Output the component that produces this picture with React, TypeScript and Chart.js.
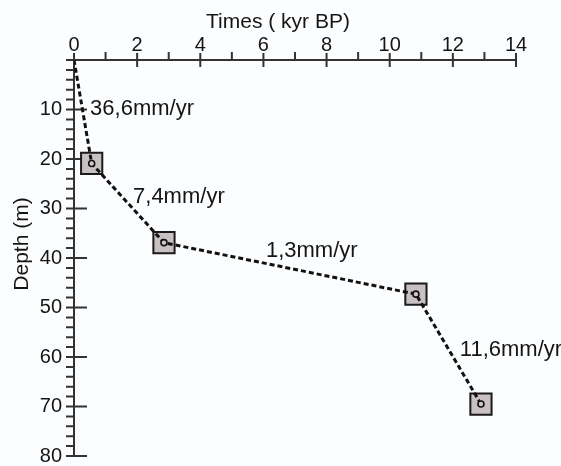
import React, { useEffect, useRef } from "react";
import { Chart, registerables } from "chart.js";

Chart.register(...registerables);

// ---- data ----
const times = [0, 0.56, 2.85, 10.83, 12.89]; // kyr BP
const depths = [0, 20.9, 36.9, 47.3, 69.5]; // m
const xMajorTicks = [0, 2, 4, 6, 8, 10, 12, 14];
const xMinorTicks = [1, 3, 5, 7, 9, 11, 13];
const yMajorTicks = [0, 10, 20, 30, 40, 50, 60, 70, 80];
const yMinorTicks = [2, 4, 6, 8, 12, 14, 16, 18, 22, 24, 26, 28, 32, 34, 36, 38, 42, 44, 46, 48, 52, 54, 56, 58, 62, 64, 66, 68, 72, 74, 76, 78];
const rateLabels = ["36,6mm/yr", "7,4mm/yr", "1,3mm/yr", "11,6mm/yr"];
const rateLabelX = [0.51, 1.87, 6.08, 12.22];
const rateLabelY = [9.8, 27.7, 38.5, 58.5];
const xTitle = "Times ( kyr BP)";
const yTitle = "Depth (m)";

const FONT = "'Liberation Sans', Arial, sans-serif";
const INK = "#151515";

const axesPlugin = {
  id: "customAxes",
  beforeDraw(chart: any) {
    const ctx = chart.ctx;
    ctx.save();
    ctx.fillStyle = "#fcfdfe";
    ctx.fillRect(0, 0, chart.width, chart.height);
    ctx.restore();
  },
  beforeDatasetsDraw(chart: any) {
    const ctx = chart.ctx;
    const xs = chart.scales.x;
    const ys = chart.scales.y;
    const x0 = xs.getPixelForValue(0);
    const y0 = ys.getPixelForValue(0);
    ctx.save();
    ctx.strokeStyle = "#333333";
    ctx.lineWidth = 2;
    ctx.beginPath();
    // x axis line
    ctx.moveTo(x0, y0);
    ctx.lineTo(xs.getPixelForValue(14), y0);
    // y axis line
    ctx.moveTo(x0, y0);
    ctx.lineTo(x0, ys.getPixelForValue(80));
    for (const v of xMajorTicks) {
      const p = xs.getPixelForValue(v);
      ctx.moveTo(p, y0 - 7);
      ctx.lineTo(p, y0 + 7);
    }
    for (const v of xMinorTicks) {
      const p = xs.getPixelForValue(v);
      ctx.moveTo(p, y0 - 8);
      ctx.lineTo(p, y0);
    }
    for (const v of yMajorTicks) {
      const p = ys.getPixelForValue(v);
      ctx.moveTo(x0 - 8, p);
      ctx.lineTo(x0 + 13, p);
    }
    for (const v of yMinorTicks) {
      const p = ys.getPixelForValue(v);
      ctx.moveTo(x0 - 8, p);
      ctx.lineTo(x0, p);
    }
    ctx.stroke();
    ctx.restore();
  },
  afterDraw(chart: any) {
    const ctx = chart.ctx;
    const xs = chart.scales.x;
    const ys = chart.scales.y;
    ctx.save();
    ctx.fillStyle = INK;
    // rate labels
    ctx.font = `22px ${FONT}`;
    ctx.textAlign = "left";
    ctx.textBaseline = "middle";
    rateLabels.forEach((t, i) => {
      ctx.fillText(t, xs.getPixelForValue(rateLabelX[i]), ys.getPixelForValue(rateLabelY[i]));
    });
    // x title
    ctx.font = `21px ${FONT}`;
    ctx.textAlign = "left";
    ctx.textBaseline = "alphabetic";
    ctx.fillText(xTitle, 206, 28);
    // y title
    ctx.font = `21px ${FONT}`;
    ctx.translate(22, 244);
    ctx.rotate(-Math.PI / 2);
    ctx.textAlign = "center";
    ctx.textBaseline = "middle";
    ctx.fillText(yTitle, 0, 0);
    ctx.restore();
  },
};

export default function App() {
  const ref = useRef<HTMLCanvasElement | null>(null);
  useEffect(() => {
    if (!ref.current) return;
    const pts = times.map((t, i) => ({ x: t, y: depths[i] }));
    const markerPts = pts.slice(1);
    const chart = new Chart(ref.current, {
      type: "scatter",
      data: {
        datasets: [
          {
            label: "dots",
            data: markerPts,
            pointRadius: 3,
            pointBackgroundColor: "#d0c8c8",
            pointBorderColor: "#111111",
            pointBorderWidth: 1.6,
            showLine: false,
            order: 0,
          },
          {
            label: "line",
            data: pts,
            showLine: true,
            borderColor: "#111111",
            borderWidth: 3,
            borderDash: [5, 3],
            pointRadius: 0,
            order: 1,
          },
          {
            label: "samples",
            data: markerPts,
            pointStyle: "rect",
            pointRadius: 15,
            pointBackgroundColor: "#c9c1c1",
            pointBorderColor: "#1a1a1a",
            pointBorderWidth: 2,
            showLine: false,
            order: 2,
          },
        ],
      },
      options: {
        responsive: false,
        animation: false,
        layout: { padding: { left: 0, top: 0, right: 45, bottom: 21 } },
        plugins: {
          legend: { display: false },
          tooltip: { enabled: false },
        },
        scales: {
          x: {
            type: "linear",
            position: "top",
            min: 0,
            max: 14,
            grid: { display: false, drawTicks: false },
            border: { display: false },
            ticks: {
              stepSize: 2,
              padding: 3,
              color: INK,
              font: { family: FONT, size: 20 },
              maxRotation: 0,
            },
            afterFit: (s: any) => {
              s.height = 60;
            },
          },
          y: {
            type: "linear",
            position: "left",
            min: 0,
            max: 80,
            reverse: true,
            grid: { display: false, drawTicks: false },
            border: { display: false },
            ticks: {
              stepSize: 10,
              padding: 12,
              color: INK,
              font: { family: FONT, size: 20 },
              callback: (v: any) => (v === 0 ? "" : String(v)),
            },
            afterFit: (s: any) => {
              s.width = 74;
            },
          },
        },
      },
      plugins: [axesPlugin],
    });
    return () => chart.destroy();
  }, []);
  return (
    <div style={{ position: "absolute", left: 0, top: 0, width: 561, height: 466, overflow: "hidden" }}>
      <canvas ref={ref} width={561} height={480} style={{ display: "block" }} />
    </div>
  );
}
